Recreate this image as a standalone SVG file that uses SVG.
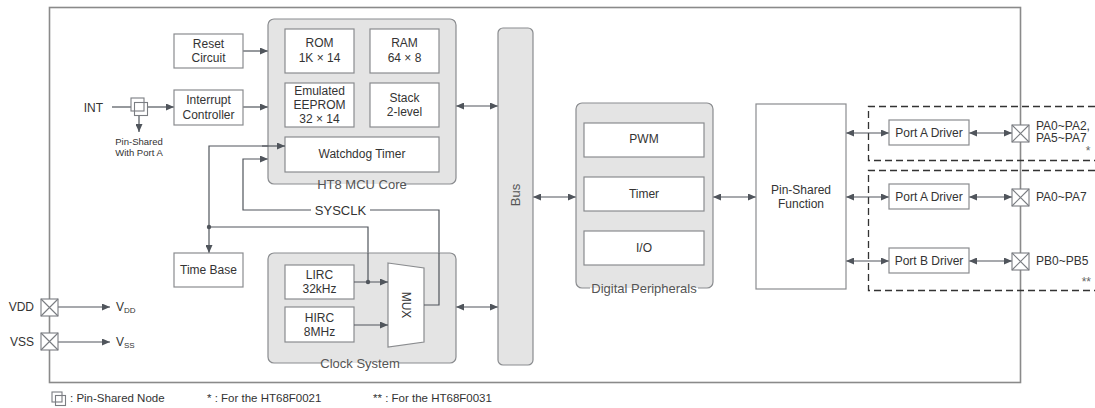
<svg xmlns="http://www.w3.org/2000/svg" width="1095" height="408" viewBox="0 0 1095 408">
  <defs>
    <marker id="arr" viewBox="0 0 8 7" refX="8" refY="3.5" markerWidth="8" markerHeight="7" markerUnits="userSpaceOnUse" orient="auto-start-reverse">
      <path d="M0,0 L8,3.5 L0,7 z" fill="#50555c"/>
    </marker>
  </defs>
  <style>
    text { font-family: "Liberation Sans", Arial, sans-serif; fill: #333; }
    .box { fill: #fff; stroke: #8a8c8f; stroke-width: 1.2; }
    .grp { fill: #e4e4e4; stroke: none; }
    .grpb { fill: none; stroke: #8a8c8f; stroke-width: 1.2; }
    .t12 { font-size: 12px; text-anchor: middle; }
    .lbl { font-size: 13px; text-anchor: middle; fill: #555; }
    .pl { font-size: 12px; }
    .ln { fill: none; stroke: #50555c; stroke-width: 1.2; }
    .a1 { marker-end: url(#arr); }
    .a2 { marker-start: url(#arr); marker-end: url(#arr); }
    .dash { fill: none; stroke: #333; stroke-width: 1.3; stroke-dasharray: 7 4; }
    .pin { fill: #fff; stroke: #7a7d82; stroke-width: 1.1; }
    .lg { font-size: 11.5px; }
  </style>

  <!-- outer chip frame -->
  <rect x="49.5" y="7.5" width="971" height="375" fill="none" stroke="#8a8a8a" stroke-width="1.6"/>

  <!-- option groups (dashed) -->
  <g id="option-groups">
    <path class="dash" d="M1095,106.5 H868.5 V160.5 H1095"/>
    <path class="dash" d="M1095,170.5 H868.5 V290.5 H1095"/>
  </g>

  <!-- connectors -->
  <g id="connectors">
    <path class="ln a1" d="M243,51 H268"/>
    <path class="ln a1" d="M243,107 H268"/>
    <path class="ln" d="M112,107 H131"/>
    <path class="ln a1" d="M148,107 H174"/>
    <path class="ln a1" d="M139,116 V132"/>
    <path class="ln" d="M368,282 V227 H209"/>
    <path class="ln a1" d="M209,227 V253"/>
    <path class="ln a1" d="M209,227 V146 H285"/>
    <path class="ln a1" d="M354,282 H388"/>
    <path class="ln a1" d="M354,325 H388"/>
    <path class="ln" d="M424,305 H439 V210 H370"/>
    <path class="ln a1" d="M311,210 H243 V159 H268"/>
    <path class="ln a2" d="M456,106 H498"/>
    <path class="ln a2" d="M456,307 H498"/>
    <path class="ln a2" d="M533,197 H576"/>
    <path class="ln a2" d="M713,197 H756"/>
    <path class="ln a2" d="M846,133 H889"/>
    <path class="ln a2" d="M846,197 H889"/>
    <path class="ln a2" d="M846,261 H889"/>
    <path class="ln a2" d="M969,133 H1012"/>
    <path class="ln a2" d="M969,197 H1012"/>
    <path class="ln a2" d="M969,261 H1012"/>
    <path class="ln a1" d="M58,307 H110"/>
    <path class="ln a1" d="M58,342 H110"/>
    <circle cx="368" cy="282" r="2.2" fill="#50555c"/>
    <circle cx="209" cy="227" r="2.2" fill="#50555c"/>
    <text x="340.5" y="214.5" class="lbl" style="fill:#333">SYSCLK</text>
  </g>

  <!-- interrupt input with pin-shared node -->
  <g id="int-pin">
    <text x="103" y="112" class="pl" text-anchor="end">INT</text>
    <rect x="131" y="98" width="13" height="13" class="pin"/>
    <rect x="134.5" y="102.5" width="13" height="13" fill="none" stroke="#7a7d82" stroke-width="1.1"/>
    <text x="139" y="145" style="font-size:9.5px;text-anchor:middle">Pin-Shared</text>
    <text x="139" y="156" style="font-size:9.5px;text-anchor:middle">With Port A</text>
  </g>

  <g id="reset-circuit">
    <rect x="174" y="34" width="69" height="34" class="box"/>
    <text x="208.5" y="48" class="t12">Reset</text>
    <text x="208.5" y="62" class="t12">Circuit</text>
  </g>

  <g id="interrupt-controller">
    <rect x="174" y="90" width="69" height="35" class="box"/>
    <text x="208.5" y="104" class="t12">Interrupt</text>
    <text x="208.5" y="119" class="t12">Controller</text>
  </g>

  <g id="time-base">
    <rect x="174" y="253" width="69" height="34" class="box"/>
    <text x="208.5" y="274" class="t12">Time Base</text>
  </g>

  <!-- HT8 MCU core -->
  <g id="mcu-core">
    <rect x="268" y="19" width="188" height="165" rx="6" class="grp"/>
    <path class="grpb" d="M320,184 H274 A6,6 0 0 1 268,178 V25 A6,6 0 0 1 274,19 H450 A6,6 0 0 1 456,25 V178 A6,6 0 0 1 450,184 H404"/>
    <text x="362" y="188.5" class="lbl">HT8 MCU Core</text>
    <g id="rom">
      <rect x="285" y="29" width="69" height="44" class="box"/>
      <text x="319.5" y="47" class="t12">ROM</text>
      <text x="319.5" y="62" class="t12">1K × 14</text>
    </g>
    <g id="ram">
      <rect x="370" y="29" width="69" height="44" class="box"/>
      <text x="404.5" y="47" class="t12">RAM</text>
      <text x="404.5" y="62" class="t12">64 × 8</text>
    </g>
    <g id="eeprom">
      <rect x="285" y="83" width="69" height="44" class="box"/>
      <text x="319.5" y="94.5" class="t12">Emulated</text>
      <text x="319.5" y="109" class="t12">EEPROM</text>
      <text x="319.5" y="122.5" class="t12">32 × 14</text>
    </g>
    <g id="stack">
      <rect x="370" y="83" width="69" height="44" class="box"/>
      <text x="404.5" y="102" class="t12">Stack</text>
      <text x="404.5" y="116" class="t12">2-level</text>
    </g>
    <g id="watchdog">
      <rect x="285" y="137" width="154" height="35" class="box"/>
      <text x="362" y="158" class="t12">Watchdog Timer</text>
    </g>
  </g>
  <!-- watchdog clock arrow drawn again on top of the core fill -->
  <path class="ln a1" d="M262,146 H285"/>

  <!-- clock system -->
  <g id="clock-system">
    <rect x="268" y="253" width="188" height="110" rx="6" class="grp"/>
    <path class="grpb" d="M322,363 H274 A6,6 0 0 1 268,357 V259 A6,6 0 0 1 274,253 H450 A6,6 0 0 1 456,259 V357 A6,6 0 0 1 450,363 H398"/>
    <text x="360" y="367.5" class="lbl">Clock System</text>
    <g id="lirc">
      <rect x="285" y="265" width="69" height="34" class="box"/>
      <text x="319.5" y="279" class="t12">LIRC</text>
      <text x="319.5" y="293" class="t12">32kHz</text>
    </g>
    <g id="hirc">
      <rect x="285" y="307" width="69" height="35" class="box"/>
      <text x="319.5" y="322" class="t12">HIRC</text>
      <text x="319.5" y="336" class="t12">8MHz</text>
    </g>
    <g id="mux">
      <path d="M388,263 L424,268 V342 L388,347 Z" class="box"/>
      <text x="406" y="305" class="t12" transform="rotate(90 406 305)" dy="4">MUX</text>
    </g>
  </g>
  <!-- clock paths drawn again on top of the clock group fill -->
  <path class="ln a1" d="M354,282 H388"/>
  <path class="ln a1" d="M354,325 H388"/>
  <path class="ln" d="M368,253 V282"/>
  <circle cx="368" cy="282" r="2.2" fill="#50555c"/>
  <path class="ln" d="M424,305 H439 V253"/>

  <!-- bus -->
  <g id="bus">
    <rect x="498" y="28" width="35" height="337" rx="5" fill="#e4e4e4" stroke="#8a8c8f" stroke-width="1.2"/>
    <text x="515.5" y="195" class="lbl" dy="4.5" transform="rotate(-90 515.5 195)">Bus</text>
  </g>

  <!-- digital peripherals -->
  <g id="digital-peripherals">
    <rect x="576" y="103" width="137" height="185" rx="6" class="grp"/>
    <path class="grpb" d="M590,288 H582 A6,6 0 0 1 576,282 V109 A6,6 0 0 1 582,103 H707 A6,6 0 0 1 713,109 V282 A6,6 0 0 1 707,288 H698"/>
    <text x="644" y="292.5" class="lbl">Digital Peripherals</text>
    <g id="pwm">
      <rect x="584" y="123" width="120" height="34" class="box"/>
      <text x="644" y="143" class="t12">PWM</text>
    </g>
    <g id="timer">
      <rect x="584" y="177" width="120" height="34" class="box"/>
      <text x="644" y="198" class="t12">Timer</text>
    </g>
    <g id="io">
      <rect x="584" y="231" width="120" height="34" class="box"/>
      <text x="644" y="252" class="t12">I/O</text>
    </g>
  </g>

  <g id="pin-shared-function">
    <rect x="756" y="104" width="90" height="185" class="box"/>
    <text x="801" y="194" class="t12">Pin-Shared</text>
    <text x="801" y="208" class="t12">Function</text>
  </g>

  <g id="port-a-driver-1">
    <rect x="889" y="120" width="80" height="25" class="box"/>
    <text x="929" y="137" class="t12">Port A Driver</text>
  </g>
  <g id="port-a-driver-2">
    <rect x="889" y="184" width="80" height="25" class="box"/>
    <text x="929" y="201" class="t12">Port A Driver</text>
  </g>
  <g id="port-b-driver">
    <rect x="889" y="248" width="80" height="25" class="box"/>
    <text x="929" y="265" class="t12">Port B Driver</text>
  </g>

  <!-- I/O pins -->
  <g id="pin-pa-1">
    <rect x="1012" y="125" width="17" height="17" class="pin"/>
    <path d="M1012,125 L1029,142 M1029,125 L1012,142" stroke="#7a7d82" stroke-width="1.1"/>
    <text x="1036" y="130" class="pl">PA0~PA2,</text>
    <text x="1036" y="142" class="pl">PA5~PA7</text>
    <text x="1088" y="155" class="pl" text-anchor="middle" style="fill:#666">*</text>
  </g>
  <g id="pin-pa-2">
    <rect x="1012" y="189" width="17" height="17" class="pin"/>
    <path d="M1012,189 L1029,206 M1029,189 L1012,206" stroke="#7a7d82" stroke-width="1.1"/>
    <text x="1036" y="201" class="pl">PA0~PA7</text>
  </g>
  <g id="pin-pb">
    <rect x="1012" y="253" width="17" height="17" class="pin"/>
    <path d="M1012,253 L1029,270 M1029,253 L1012,270" stroke="#7a7d82" stroke-width="1.1"/>
    <text x="1036" y="265" class="pl">PB0~PB5</text>
    <text x="1091" y="286" class="pl" text-anchor="end" style="fill:#666">**</text>
  </g>
  <g id="pin-vdd">
    <rect x="41" y="299" width="17" height="17" class="pin"/>
    <path d="M41,299 L58,316 M58,299 L41,316" stroke="#7a7d82" stroke-width="1.1"/>
    <text x="34" y="311" class="pl" text-anchor="end">VDD</text>
    <text x="116" y="311" class="pl">V<tspan font-size="8" dy="2">DD</tspan></text>
  </g>
  <g id="pin-vss">
    <rect x="41" y="333" width="17" height="17" class="pin"/>
    <path d="M41,333 L58,350 M58,333 L41,350" stroke="#7a7d82" stroke-width="1.1"/>
    <text x="34" y="346" class="pl" text-anchor="end">VSS</text>
    <text x="116" y="346" class="pl">V<tspan font-size="8" dy="2">SS</tspan></text>
  </g>

  <!-- legend -->
  <g id="legend">
    <rect x="52" y="392" width="10" height="10" class="pin"/>
    <rect x="55.5" y="395.5" width="10" height="10" fill="none" stroke="#7a7d82" stroke-width="1.1"/>
    <text x="70" y="402" class="lg">: Pin-Shared Node</text>
    <text x="207" y="402" class="lg">* : For the HT68F0021</text>
    <text x="373" y="402" class="lg">** : For the HT68F0031</text>
  </g>
</svg>
